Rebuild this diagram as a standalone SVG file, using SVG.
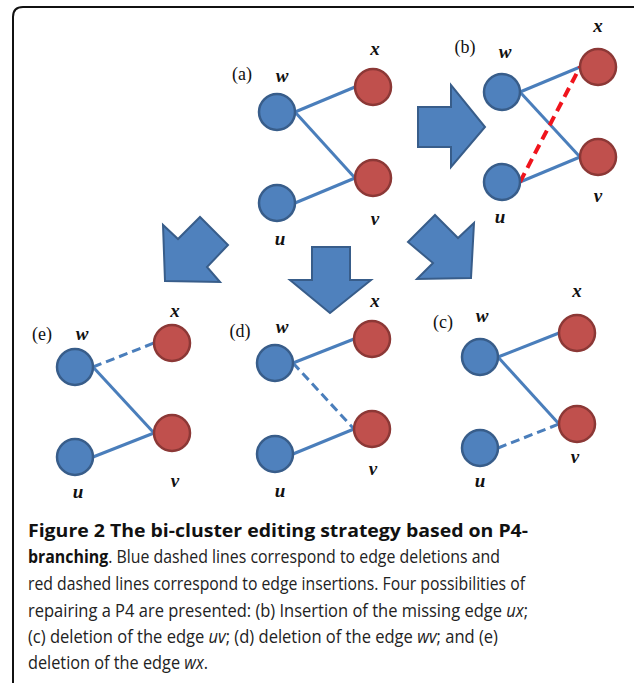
<svg xmlns="http://www.w3.org/2000/svg" width="634" height="683" viewBox="0 0 634 683">
  <style>
    .blue { fill: #4f81bd; stroke: #385d8a; stroke-width: 2.5; }
    .red { fill: #c0504d; stroke: #8c3836; stroke-width: 2.5; }
    .edge { stroke: #4a7ebb; stroke-width: 3; fill: none; }
    .del { stroke: #4a7ebb; stroke-width: 3; fill: none; stroke-dasharray: 9 5; }
    .ins { stroke: #f0141c; stroke-width: 4; fill: none; stroke-dasharray: 10 6; }
    .arrow { fill: #4f81bd; stroke: #385d8a; stroke-width: 2; stroke-linejoin: miter; }
    .var { font-family: "Liberation Serif", "Times New Roman", serif; font-size: 19px; font-weight: bold; font-style: italic; fill: #111; text-anchor: middle; }
    .tag { font-family: "Liberation Serif", "Times New Roman", serif; font-size: 18px; fill: #111; text-anchor: middle; }
    .cap { font-family: "Open Sans", "Noto Sans", sans-serif; font-size: 18px; fill: #222; }
    .b { font-weight: bold; fill: #111; }
    .i { font-style: italic; }
  </style>

  <rect width="634" height="683" fill="#ffffff"/>

  <!-- frame: left and top sides with rounded corner -->
  <path d="M13,690 L13,17 Q13,7 23,7 L640,7" fill="none" stroke="#111" stroke-width="2"/>

  <!-- block arrows between stages -->
  <g id="arrow-right">
    <polygon class="arrow" points="418,107 451,107 451,85 485,127 451,167 451,147 418,147"/>
  </g>
  <g id="arrow-down-left">
    <polygon class="arrow" points="165,281 163,225 178,239 200,217 228,245 207,267 220,282"/>
  </g>
  <g id="arrow-down">
    <polygon class="arrow" points="312,247 350,247 350,280 371,280 330,313 290,280 312,280"/>
  </g>
  <g id="arrow-down-right">
    <polygon class="arrow" points="435,215 458,238 474,223 471,278 417,279 433,263 408,242"/>
  </g>

  <!-- connectors -->
  <g id="connectors">
    <!-- (a) -->
    <line class="edge" x1="295" y1="112" x2="355" y2="87"/>
    <line class="edge" x1="295" y1="112" x2="355" y2="178"/>
    <line class="edge" x1="295" y1="203" x2="355" y2="178"/>
    <!-- (b) -->
    <line class="edge" x1="520" y1="92" x2="580" y2="67"/>
    <line class="edge" x1="520" y1="92" x2="580" y2="157"/>
    <line class="edge" x1="520" y1="182" x2="580" y2="157"/>
    <line class="ins" x1="520" y1="182" x2="580" y2="67"/>
    <!-- (e) -->
    <line class="del" x1="93" y1="367" x2="154" y2="343"/>
    <line class="edge" x1="93" y1="367" x2="154" y2="433"/>
    <line class="edge" x1="93" y1="457" x2="154" y2="433"/>
    <!-- (d) -->
    <line class="edge" x1="293" y1="363" x2="354" y2="339"/>
    <line class="del" x1="293" y1="363" x2="354" y2="429"/>
    <line class="edge" x1="293" y1="454" x2="354" y2="429"/>
    <!-- (c) -->
    <line class="edge" x1="498" y1="357" x2="559" y2="333"/>
    <line class="edge" x1="498" y1="357" x2="559" y2="424"/>
    <line class="del" x1="498" y1="448" x2="559" y2="424"/>
  </g>

  <!-- (a) -->
  <g id="panel-a">
    <text class="tag" x="242" y="80">(a)</text>
    <g id="a-w"><circle class="blue" cx="277" cy="112" r="18"/><text class="var" x="282" y="82">w</text></g>
    <g id="a-x"><circle class="red" cx="373" cy="87" r="18"/><text class="var" x="375" y="55">x</text></g>
    <g id="a-v"><circle class="red" cx="373" cy="178" r="18"/><text class="var" x="375" y="225">v</text></g>
    <g id="a-u"><circle class="blue" cx="277" cy="203" r="18"/><text class="var" x="280" y="245">u</text></g>
  </g>

  <!-- (b) -->
  <g id="panel-b">
    <text class="tag" x="465" y="53">(b)</text>
    <g id="b-w"><circle class="blue" cx="502" cy="92" r="18"/><text class="var" x="505" y="58">w</text></g>
    <g id="b-x"><circle class="red" cx="598" cy="67" r="18"/><text class="var" x="598" y="32">x</text></g>
    <g id="b-v"><circle class="red" cx="598" cy="157" r="18"/><text class="var" x="598" y="202">v</text></g>
    <g id="b-u"><circle class="blue" cx="502" cy="182" r="18"/><text class="var" x="500" y="223">u</text></g>
  </g>

  <!-- (e) -->
  <g id="panel-e">
    <text class="tag" x="42" y="340">(e)</text>
    <g id="e-w"><circle class="blue" cx="75" cy="367" r="18"/><text class="var" x="82" y="340">w</text></g>
    <g id="e-x"><circle class="red" cx="172" cy="343" r="18"/><text class="var" x="175" y="317">x</text></g>
    <g id="e-v"><circle class="red" cx="172" cy="433" r="18"/><text class="var" x="175" y="487">v</text></g>
    <g id="e-u"><circle class="blue" cx="75" cy="457" r="18"/><text class="var" x="78" y="498">u</text></g>
  </g>

  <!-- (d) -->
  <g id="panel-d">
    <text class="tag" x="240" y="337">(d)</text>
    <g id="d-w"><circle class="blue" cx="275" cy="363" r="18"/><text class="var" x="282" y="333">w</text></g>
    <g id="d-x"><circle class="red" cx="372" cy="339" r="18"/><text class="var" x="375" y="307">x</text></g>
    <g id="d-v"><circle class="red" cx="372" cy="429" r="18"/><text class="var" x="373" y="475">v</text></g>
    <g id="d-u"><circle class="blue" cx="275" cy="454" r="18"/><text class="var" x="280" y="497">u</text></g>
  </g>

  <!-- (c) -->
  <g id="panel-c">
    <text class="tag" x="443" y="328">(c)</text>
    <g id="c-w"><circle class="blue" cx="480" cy="357" r="18"/><text class="var" x="482" y="322">w</text></g>
    <g id="c-x"><circle class="red" cx="577" cy="333" r="18"/><text class="var" x="577" y="297">x</text></g>
    <g id="c-v"><circle class="red" cx="577" cy="424" r="18"/><text class="var" x="575" y="463">v</text></g>
    <g id="c-u"><circle class="blue" cx="480" cy="448" r="18"/><text class="var" x="480" y="487">u</text></g>
  </g>

  <!-- caption -->
  <g id="caption" class="cap">
    <text x="28" y="537" textLength="500" lengthAdjust="spacingAndGlyphs" class="b">Figure 2 The bi-cluster editing strategy based on P4-</text>
    <text x="28" y="563" textLength="472" lengthAdjust="spacingAndGlyphs"><tspan class="b">branching</tspan>. Blue dashed lines correspond to edge deletions and</text>
    <text x="28" y="590" textLength="497" lengthAdjust="spacingAndGlyphs">red dashed lines correspond to edge insertions. Four possibilities of</text>
    <text x="28" y="617" textLength="500" lengthAdjust="spacingAndGlyphs">repairing a P4 are presented: (b) Insertion of the missing edge <tspan class="i">ux</tspan>;</text>
    <text x="28" y="643" textLength="470" lengthAdjust="spacingAndGlyphs">(c) deletion of the edge <tspan class="i">uv</tspan>; (d) deletion of the edge <tspan class="i">wv</tspan>; and (e)</text>
    <text x="28" y="669" textLength="180" lengthAdjust="spacingAndGlyphs">deletion of the edge <tspan class="i">wx</tspan>.</text>
  </g>
</svg>
